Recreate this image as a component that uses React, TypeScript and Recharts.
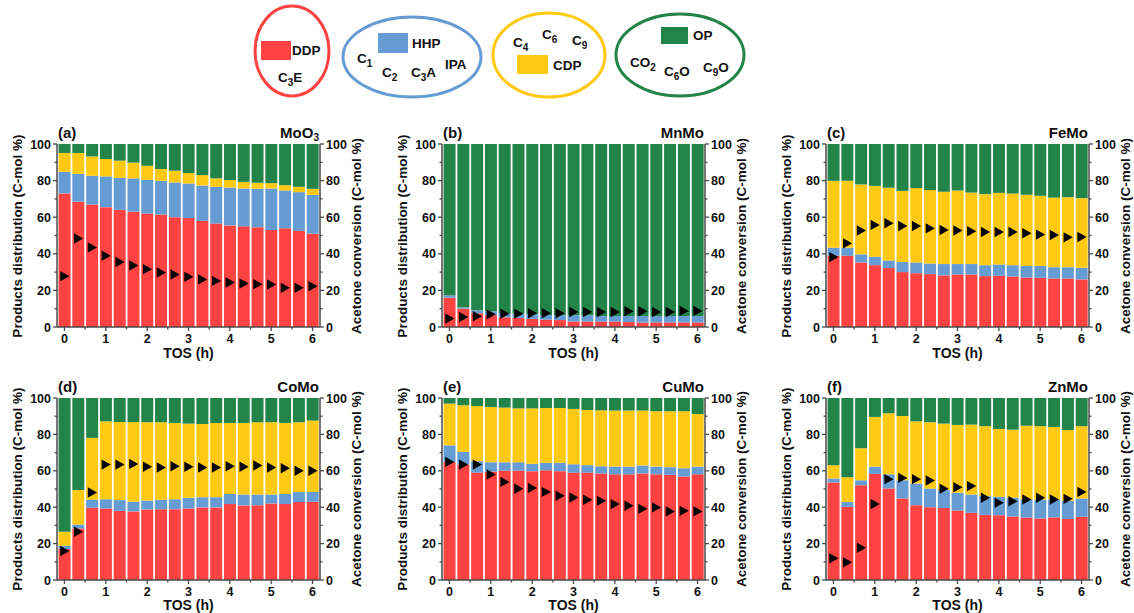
import React from 'react';
import { ComposedChart, Bar, Line, XAxis, YAxis } from 'recharts';

// time on stream (h), one bar every 20 min
const TOS = [0, 0.333, 0.667, 1, 1.333, 1.667, 2, 2.333, 2.667, 3, 3.333, 3.667, 4, 4.333, 4.667, 5, 5.333, 5.667, 6];
const X_TICKS = [0, 0.5, 1, 1.5, 2, 2.5, 3, 3.5, 4, 4.5, 5, 5.5, 6];
const Y_TICKS = [0, 10, 20, 30, 40, 50, 60, 70, 80, 90, 100];

// (a) MoO3
const mooDdp = [73, 68.5, 67, 65.5, 64, 63, 62, 61.5, 60, 59.5, 58, 56.5, 55.5, 55, 54.5, 53, 54, 52.5, 51];
const mooHhp = [11.8, 15.2, 15.6, 16.8, 17.5, 18.2, 18.4, 18.4, 19, 18.9, 19.3, 20.1, 20.7, 20.7, 21, 22.7, 20.6, 21.2, 21.2];
const mooCdp = [10.3, 11.4, 10.6, 9.5, 9.4, 8.6, 7.7, 6.4, 6.4, 5.7, 5.7, 4.6, 4.1, 3.6, 3.3, 2.9, 2.9, 2.9, 3.3];
const mooOp = [4.9, 4.9, 6.8, 8.2, 9.1, 10.2, 11.9, 13.7, 14.6, 15.9, 17, 18.8, 19.7, 20.7, 21.2, 21.4, 22.5, 23.4, 24.5];
const mooConv = [27.8, 48.4, 43.5, 38.9, 35.5, 33.6, 31.6, 29.8, 28.7, 27.4, 26, 25.2, 24.3, 23.8, 23.4, 23.2, 21.4, 21.4, 22.3];

// (b) MnMo
const mnDdp = [16, 10, 7.5, 6.5, 5.3, 5, 4.4, 4, 3.8, 3, 3, 3, 3, 2.7, 2.5, 2.5, 2.5, 2.5, 2.5];
const mnHhp = [1.2, 0.6, 1.6, 2.1, 2.4, 2.3, 2.5, 2.6, 2.8, 3.4, 3.4, 3, 3, 3.3, 3.5, 3.5, 3.5, 3.5, 3.5];
const mnCdp = [0, 0, 0, 0, 0, 0, 0, 0, 0, 0, 0, 0, 0, 0, 0, 0, 0, 0, 0];
const mnOp = [82.8, 89.4, 90.9, 91.4, 92.3, 92.7, 93.1, 93.4, 93.4, 93.6, 93.6, 94, 94, 94, 94, 94, 94, 94, 94];
const mnConv = [4.6, 5.5, 5.9, 6.9, 7.3, 7.3, 7.5, 7.5, 7.5, 8.2, 8.2, 8.2, 8.2, 8.6, 8.6, 8.2, 8.2, 8.8, 8.8];

// (c) FeMo
const feDdp = [38.9, 38.9, 35.3, 33.8, 32.2, 30, 29.4, 28.9, 28.2, 28.7, 28.7, 27.8, 28, 27.6, 27.1, 26.9, 26.5, 26.5, 26];
const feHhp = [4.4, 4.4, 4.4, 4.6, 4.2, 5.5, 5.9, 5.8, 6.2, 5.7, 5.7, 6, 6.2, 6.2, 6.2, 6.4, 6.2, 6.2, 6.4];
const feCdp = [36.6, 36.6, 38.2, 38.7, 39.7, 38.9, 40.6, 40.1, 39.5, 40.2, 39.1, 38.8, 39.1, 39.1, 38.9, 38.4, 38, 38.2, 38];
const feOp = [20.1, 20.1, 22.1, 22.9, 23.9, 25.6, 24.1, 25.2, 26.1, 25.4, 26.5, 27.4, 26.7, 27.1, 27.8, 28.3, 29.3, 29.1, 29.6];
const feConv = [38.2, 45.7, 52.7, 55.8, 56.7, 55.2, 55.2, 53.9, 53, 52.7, 52.3, 51.9, 51.9, 51.9, 51.2, 50.5, 50.3, 49, 49.2];

// (d) CoMo
const coDdp = [17, 28.3, 39.7, 39.3, 38, 37.7, 38.8, 38.9, 38.9, 39.3, 39.9, 39.9, 41.7, 41, 41.1, 42, 41.7, 42.8, 43];
const coHhp = [1.8, 2.2, 4.4, 5.1, 5.9, 5.3, 4.9, 5.2, 5.5, 5.9, 5.6, 5.6, 5.6, 6, 5.9, 5, 5.6, 5.5, 5.4];
const coCdp = [7.7, 18.9, 34, 42.8, 42.9, 43.8, 43, 42.6, 41.9, 40.7, 40.2, 40.8, 39, 39.3, 39.7, 39.7, 39, 38.4, 39.2];
const coOp = [73.5, 50.6, 21.9, 12.8, 13.2, 13.2, 13.3, 13.3, 13.7, 14.1, 14.3, 13.7, 13.7, 13.7, 13.3, 13.3, 13.7, 13.3, 12.4];
const coConv = [15.9, 26.5, 48.1, 63.4, 63.4, 63.8, 62.2, 61.8, 62.5, 62.2, 61.8, 61.8, 62.5, 62.2, 62.9, 61.8, 61.4, 60, 60];

// (e) CuMo
const cuDdp = [64.9, 63.4, 59, 59.6, 60.1, 60.1, 59.8, 60.3, 59.8, 59, 59, 58.5, 58.1, 58.1, 58.5, 58.1, 57.8, 56.9, 58.1];
const cuHhp = [9.1, 7, 6.3, 5.1, 4.6, 4.6, 4, 4.1, 4.6, 4.6, 4.1, 4, 4.2, 4.2, 4.4, 4.2, 4.2, 4.5, 4.2];
const cuCdp = [22.9, 25.6, 30.3, 30.4, 30, 29.6, 30.5, 30.1, 30.1, 30.4, 30.3, 30.7, 30.8, 30.8, 30.2, 30.4, 30.7, 31.3, 28.9];
const cuOp = [3.1, 4, 4.4, 4.9, 5.3, 5.7, 5.7, 5.5, 5.5, 6, 6.6, 6.8, 6.9, 6.9, 6.9, 7.3, 7.3, 7.3, 8.8];
const cuConv = [64.9, 63.4, 63.4, 58, 53.9, 50.1, 50.6, 48.4, 46.3, 45.3, 44.1, 43.5, 41.7, 40.8, 39.1, 39.9, 37.7, 38, 37.7];

// (f) ZnMo
const znDdp = [53.6, 40.2, 52.1, 58.3, 50.3, 44.8, 41.1, 40, 39.5, 38.2, 36.9, 35.8, 35.6, 34.9, 34.4, 33.8, 34.4, 33.5, 34.7];
const znHhp = [2.2, 2.7, 2.7, 4, 7.8, 10, 11.9, 10.3, 9.9, 9.7, 10.1, 10.3, 10.1, 10.3, 10, 10.4, 9.8, 10, 10.1];
const znCdp = [7.3, 13.6, 17.6, 27.3, 33.5, 35.3, 34.2, 36.4, 36.5, 37.3, 38.4, 38.4, 37.3, 37.4, 40.4, 40.3, 39.9, 38.9, 39.7];
const znOp = [36.9, 43.5, 27.6, 10.4, 8.4, 9.9, 12.8, 13.3, 14.1, 14.8, 14.6, 15.5, 17, 17.4, 15.2, 15.5, 15.9, 17.6, 15.5];
const znConv = [11.9, 9.7, 17.7, 41.7, 55.4, 56.1, 55.4, 54.7, 50.1, 51, 51.6, 45.2, 42.4, 43.3, 44.2, 45.2, 44.2, 44.6, 48.4];

const RED = '#FF4242';
const BLUE = '#659CD3';
const YELLOW = '#FFC914';
const GREEN = '#23844A';
const AXIS = '#4a4a4a';
const FONT = '"Liberation Sans", Arial, sans-serif';

const PLOT_W = 263;
const COLS = [57, 442, 826];
const ROWS = [
  { top: 144, h: 183, xt: 26 },
  { top: 398, h: 182, xt: 24.5 },
];

const panels = [
  { tag: '(a)', name: 'MoO', sub: '3', col: 0, row: 0, ddp: mooDdp, hhp: mooHhp, cdp: mooCdp, op: mooOp, conv: mooConv },
  { tag: '(b)', name: 'MnMo', sub: '', col: 1, row: 0, ddp: mnDdp, hhp: mnHhp, cdp: mnCdp, op: mnOp, conv: mnConv },
  { tag: '(c)', name: 'FeMo', sub: '', col: 2, row: 0, ddp: feDdp, hhp: feHhp, cdp: feCdp, op: feOp, conv: feConv },
  { tag: '(d)', name: 'CoMo', sub: '', col: 0, row: 1, ddp: coDdp, hhp: coHhp, cdp: coCdp, op: coOp, conv: coConv },
  { tag: '(e)', name: 'CuMo', sub: '', col: 1, row: 1, ddp: cuDdp, hhp: cuHhp, cdp: cuCdp, op: cuOp, conv: cuConv },
  { tag: '(f)', name: 'ZnMo', sub: '', col: 2, row: 1, ddp: znDdp, hhp: znHhp, cdp: znCdp, op: znOp, conv: znConv },
];

const tickText = { fontFamily: FONT, fontSize: 12.5, fontWeight: 700, fill: '#111' };

const XTick = (props: any) => {
  const { x, y, payload } = props;
  const v = payload.value;
  const major = Math.abs(v - Math.round(v)) < 1e-6;
  const y0 = y - 6;
  return (
    <g>
      <line x1={x} x2={x} y1={y0} y2={y0 + (major ? 4 : 2.5)} stroke={AXIS} strokeWidth={1.3} />
      {major && (
        <text x={x} y={y0 + 15.5} textAnchor="middle" {...tickText}>
          {v}
        </text>
      )}
    </g>
  );
};

const LeftTick = (props: any) => {
  const { x, y, payload } = props;
  const v = payload.value;
  const major = v % 20 === 0;
  const x0 = x + 6;
  return (
    <g>
      <line x1={x0} x2={x0 - (major ? 4 : 2.5)} y1={y} y2={y} stroke={AXIS} strokeWidth={1.3} />
      {major && (
        <text x={x0 - 6} y={y + 4.5} textAnchor="end" {...tickText}>
          {v}
        </text>
      )}
    </g>
  );
};

const RightTick = (props: any) => {
  const { x, y, payload } = props;
  const v = payload.value;
  const major = v % 20 === 0;
  const x0 = x - 6;
  return (
    <g>
      <line x1={x0} x2={x0 + (major ? 4 : 2.5)} y1={y} y2={y} stroke={AXIS} strokeWidth={1.3} />
      {major && (
        <text x={x0 + 6} y={y + 4.5} textAnchor="start" {...tickText}>
          {v}
        </text>
      )}
    </g>
  );
};

const Triangle = (props: any) => {
  const { cx, cy, index } = props;
  if (cx == null || cy == null) return <g key={`t${index}`} />;
  return <path key={`t${index}`} d={`M${cx - 4.2},${cy - 5.2} L${cx + 5},${cy} L${cx - 4.2},${cy + 5.2} Z`} fill="#000" />;
};

const titleStyle: React.CSSProperties = {
  position: 'absolute',
  fontFamily: FONT,
  fontWeight: 700,
  fontSize: 13.5,
  color: '#111',
  whiteSpace: 'nowrap',
  lineHeight: 1,
};

const Panel = ({ p }: { p: (typeof panels)[number] }) => {
  const left = COLS[p.col];
  const { top, h, xt } = ROWS[p.row];
  const data = TOS.map((t, i) => ({
    t,
    ddp: p.ddp[i],
    hhp: p.hhp[i],
    cdp: p.cdp[i],
    op: p.op[i],
    conv: p.conv[i],
  }));
  const yw = 50;
  return (
    <>
      <div style={{ position: 'absolute', left: left - yw, top: top - 10 }}>
        <ComposedChart
          width={PLOT_W + yw * 2}
          height={h + 10 + 30}
          data={data}
          margin={{ top: 10, right: 0, bottom: 0, left: 0 }}
        >
          <XAxis
            dataKey="t"
            type="number"
            domain={[-0.18, 6.18]}
            allowDataOverflow
            ticks={X_TICKS}
            interval={0}
            height={30}
            tickSize={4}
            tickMargin={2}
            tickLine={false}
            axisLine={{ stroke: AXIS, strokeWidth: 1.5 }}
            tick={<XTick />}
          />
          <YAxis
            yAxisId="l"
            domain={[0, 100]}
            ticks={Y_TICKS}
            interval={0}
            width={yw}
            tickSize={4}
            tickMargin={2}
            tickLine={false}
            axisLine={{ stroke: AXIS, strokeWidth: 1.5 }}
            tick={<LeftTick />}
          />
          <YAxis
            yAxisId="r"
            orientation="right"
            domain={[0, 100]}
            ticks={Y_TICKS}
            interval={0}
            width={yw}
            tickSize={4}
            tickMargin={2}
            tickLine={false}
            axisLine={{ stroke: AXIS, strokeWidth: 1.5 }}
            tick={<RightTick />}
          />
          <Bar yAxisId="l" dataKey="ddp" stackId="s" fill={RED} barSize={12} isAnimationActive={false} />
          <Bar yAxisId="l" dataKey="hhp" stackId="s" fill={BLUE} barSize={12} isAnimationActive={false} />
          <Bar yAxisId="l" dataKey="cdp" stackId="s" fill={YELLOW} barSize={12} isAnimationActive={false} />
          <Bar yAxisId="l" dataKey="op" stackId="s" fill={GREEN} barSize={12} isAnimationActive={false} />
          <Line
            yAxisId="r"
            dataKey="conv"
            stroke="none"
            dot={(dp: any) => <Triangle key={`tri${dp.index}`} {...dp} />}
            activeDot={false}
            isAnimationActive={false}
          />
        </ComposedChart>
      </div>
      <div style={{ ...titleStyle, fontSize: 15, left: left + 1, top: top - 19 }}>{p.tag}</div>
      <div style={{ ...titleStyle, fontSize: 15, right: 1134 - (left + PLOT_W) + 1, top: top - 19 }}>
        {p.name}
        {p.sub && <sub style={{ fontSize: 10, verticalAlign: -3 }}>{p.sub}</sub>}
      </div>
      <div
        style={{
          ...titleStyle,
          left: left - 39,
          top: top + h / 2,
          transform: 'translate(-50%, -50%) rotate(-90deg)',
        }}
      >
        Products distribution (C-mol %)
      </div>
      <div
        style={{
          ...titleStyle,
          left: left + PLOT_W + 37,
          top: top + h / 2,
          transform: 'translate(-50%, -50%) rotate(-90deg)',
        }}
      >
        Acetone conversion (C-mol %)
      </div>
      <div
        style={{
          ...titleStyle,
          fontSize: 14,
          left: left + PLOT_W / 2,
          top: top + h + xt,
          transform: 'translate(-50%, -50%)',
        }}
      >
        TOS (h)
      </div>
    </>
  );
};

const lt = { fontFamily: FONT, fontSize: 13.5, fontWeight: 700, fill: '#111' };

const Sub = ({ x, y, a, s, b }: { x: number; y: number; a: string; s: string; b?: string }) => (
  <text x={x} y={y} {...lt}>
    {a}
    <tspan dy={4} fontSize={10}>
      {s}
    </tspan>
    {b && <tspan dy={-4}>{b}</tspan>}
  </text>
);

const LegendBox = () => (
  <svg width={1134} height={105} style={{ position: 'absolute', left: 0, top: 0 }}>
    <ellipse cx={292} cy={51} rx={37} ry={45} fill="none" stroke={RED} strokeWidth={3} />
    <rect x={261} y={41} width={30} height={19} fill={RED} />
    <text x={292} y={55} {...lt}>DDP</text>
    <Sub x={278} y={82} a="C" s="3" b="E" />

    <ellipse cx={412} cy={57} rx={69} ry={40} fill="none" stroke={BLUE} strokeWidth={3} />
    <rect x={378} y={33} width={30} height={20} fill={BLUE} />
    <text x={412} y={48} {...lt}>HHP</text>
    <Sub x={357} y={63} a="C" s="1" />
    <Sub x={382} y={77} a="C" s="2" />
    <Sub x={411} y={77} a="C" s="3" b="A" />
    <text x={445} y={69} {...lt}>IPA</text>

    <ellipse cx={549} cy={55} rx={56} ry={42} fill="none" stroke={YELLOW} strokeWidth={3} />
    <Sub x={513} y={47} a="C" s="4" />
    <Sub x={542} y={39} a="C" s="6" />
    <Sub x={572} y={45} a="C" s="9" />
    <rect x={517} y={55} width={31} height={19} fill={YELLOW} />
    <text x={553} y={70} {...lt}>CDP</text>

    <ellipse cx={680} cy={55} rx={64} ry={41} fill="none" stroke={GREEN} strokeWidth={3} />
    <rect x={661} y={27} width={27} height={17} fill={GREEN} />
    <text x={693} y={40} {...lt}>OP</text>
    <Sub x={630} y={67} a="CO" s="2" />
    <Sub x={664} y={76} a="C" s="6" b="O" />
    <Sub x={703} y={72} a="C" s="9" b="O" />
  </svg>
);

export default function App() {
  return (
    <div
      style={{
        position: 'absolute',
        left: 0,
        top: 0,
        width: 1134,
        height: 613,
        background: '#fff',
        overflow: 'hidden',
      }}
    >
      <LegendBox />
      {panels.map((p) => (
        <Panel key={p.tag} p={p} />
      ))}
    </div>
  );
}
